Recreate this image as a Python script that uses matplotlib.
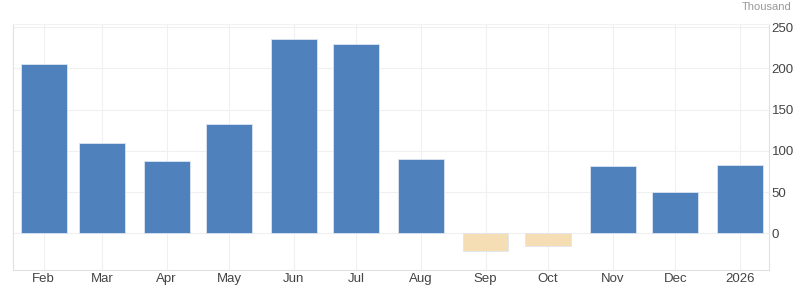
import matplotlib
matplotlib.use("Agg")
import matplotlib.pyplot as plt
import matplotlib.dates as mdates
import numpy as np

# data (thousand)
months = ["2025-02-01", "2025-03-01", "2025-04-01", "2025-05-01", "2025-06-01", "2025-07-01",
          "2025-08-01", "2025-09-01", "2025-10-01", "2025-11-01", "2025-12-01", "2026-01-01"]
labels = ["Feb", "Mar", "Apr", "May", "Jun", "Jul", "Aug", "Sep", "Oct", "Nov", "Dec", "2026"]
values = [205, 110, 88, 132, 236, 230, 90, -22, -16, 82, 50, 83]

plt.rcParams['font.family'] = ['Liberation Sans', 'DejaVu Sans']

dates = mdates.date2num(np.array(months, dtype='datetime64[D]'))
colors = ['#4f81bd' if v >= 0 else '#f5deb3' for v in values]

fig = plt.figure(figsize=(8, 2.94), dpi=100)
ax = fig.add_axes([0.01625, 0.0816, 0.9450, 0.8367])

ax.bar(dates, values, width=22, color=colors, edgecolor='#dde6f2', linewidth=0.6, zorder=3)

ax.set_xlim(dates[0] - 14.7, dates[-1] + 14)
ax.set_ylim(-44.5, 253.7)

ax.set_xticks(dates)
ax.set_xticklabels(labels)
ax.set_yticks([0, 50, 100, 150, 200, 250])
ax.yaxis.tick_right()

ax.grid(True, color='#f0f0f0', linewidth=0.8, zorder=0)
ax.tick_params(axis='both', length=0, labelsize=9.5, labelcolor='#444444')
ax.tick_params(axis='x', pad=2)
ax.tick_params(axis='y', pad=2)

for side in ['left', 'bottom', 'right']:
    ax.spines[side].set_color('#e0e0e0')
ax.spines['top'].set_color('#f2f2f2')

fig.text(0.989, 0.993, "Thousand", ha='right', va='top', fontsize=8, color='#999999')

fig.savefig("out.png", dpi=100)
